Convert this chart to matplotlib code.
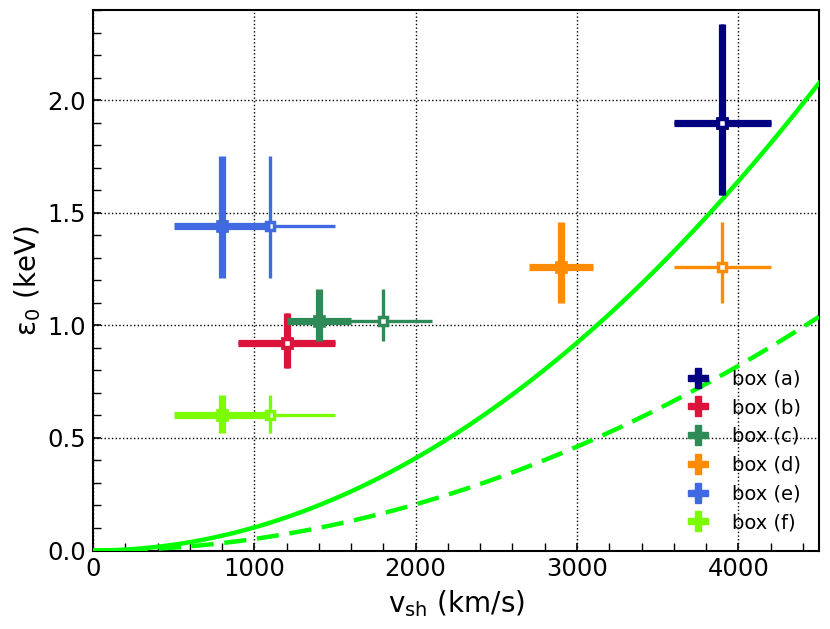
import numpy as np
import matplotlib
matplotlib.use("Agg")
import matplotlib.pyplot as plt
from matplotlib.ticker import MultipleLocator
from matplotlib.lines import Line2D

# --- data ---
labels = ["box (a)", "box (b)", "box (c)", "box (d)", "box (e)", "box (f)"]
colors = ["navy", "crimson", "seagreen", "darkorange", "royalblue", "lawngreen"]

# thick (filled) points
v_thick = [3900, 1200, 1400, 2900, 800, 800]
dv_thick = [300, 300, 200, 200, 300, 300]
# thin (open) points
v_thin = [3900, 1200, 1800, 3900, 1100, 1100]
dv_thin = [300, 300, 300, 300, 400, 400]

eps0 = [1.90, 0.92, 1.02, 1.26, 1.44, 0.60]
eps_up = [0.44, 0.135, 0.14, 0.20, 0.31, 0.09]
eps_lo = [0.32, 0.11, 0.09, 0.16, 0.23, 0.08]

# model curves: eps0 = coef * (v/1000 km/s)^2 keV
coef_solid = 0.1025
coef_dashed = 0.05125

fig = plt.figure(figsize=(8.3, 6.29), dpi=100)
ax = fig.add_axes([93/830, 1-550.5/629, (819-93)/830, (550.5-10)/629])

v = np.linspace(0, 4500, 400)
ax.plot(v, coef_solid*(v/1000)**2, color="#00ff00", lw=3.2, zorder=3)
ax.plot(v, coef_dashed*(v/1000)**2, color="#00ff00", lw=3.2, ls=(0, (5, 2.4)), zorder=3)

handles = []
for i in range(len(labels)):
    yerr = [[eps_lo[i]], [eps_up[i]]]
    ax.errorbar([v_thin[i]], [eps0[i]], xerr=[dv_thin[i]], yerr=yerr,
                fmt="s", color=colors[i], ms=6, mfc="white", mec=colors[i],
                mew=2.5, elinewidth=2.4, capsize=0, zorder=4)
    ax.errorbar([v_thick[i]], [eps0[i]], xerr=[dv_thick[i]], yerr=yerr,
                fmt="s", color=colors[i], ms=9, mew=0.5, elinewidth=5.2,
                capsize=0, zorder=5)
    if v_thin[i] == v_thick[i]:
        ax.plot([v_thin[i]], [eps0[i]], "s", ms=6, mfc="white", mec=colors[i],
                mew=2.5, zorder=6)
    handles.append(Line2D([], [], ls="none", marker="P", ms=14, color=colors[i],
                          mec=colors[i], label=labels[i]))

ax.set_xlim(0, 4500)
ax.set_ylim(0, 2.4)
ax.xaxis.set_major_locator(MultipleLocator(1000))
ax.xaxis.set_minor_locator(MultipleLocator(200))
ax.yaxis.set_major_locator(MultipleLocator(0.5))
ax.yaxis.set_minor_locator(MultipleLocator(0.1))
ax.tick_params(which="both", direction="in", labelsize=17.5, pad=5)
ax.tick_params(which="major", length=6, width=1.2)
ax.tick_params(which="minor", length=6, width=1.0)
ax.grid(True, which="major", color="black", ls=":", lw=1.0)
for s in ax.spines.values():
    s.set_linewidth(1.5)

ax.set_xlabel(r"v$_{\rm sh}$ (km/s)", fontsize=20, labelpad=5)
ax.set_ylabel(r"ε$_0$ (keV)", fontsize=20, labelpad=3)

ax.legend(handles=handles, loc="lower right", frameon=False, fontsize=14,
          handlelength=1.0, handletextpad=1.25, labelspacing=0.5,
          borderaxespad=0.55)

fig.savefig("out.png", dpi=100)
